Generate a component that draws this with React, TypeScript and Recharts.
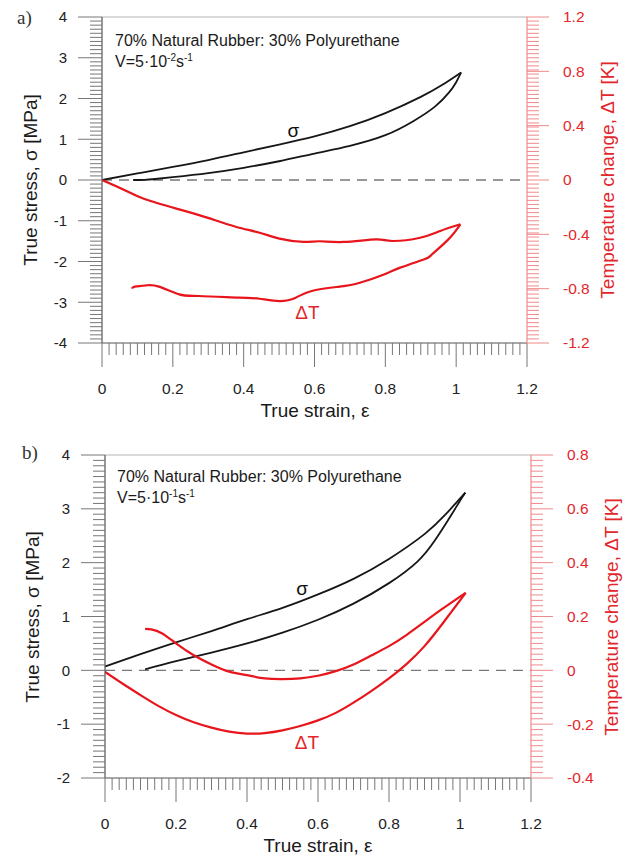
import React from 'react';
import { LineChart, Line, XAxis, YAxis, ReferenceLine, ReferenceDot } from 'recharts';

// ---------- Panel a) V = 5·10^-2 s^-1 ----------
const A_SIGMA_LOAD_E = [0, 0.1, 0.2, 0.3, 0.4, 0.5, 0.6, 0.7, 0.8, 0.9, 0.96, 1.014];
const A_SIGMA_LOAD_S = [0, 0.16, 0.32, 0.49, 0.68, 0.87, 1.07, 1.32, 1.64, 2.04, 2.33, 2.64];
const A_SIGMA_UNLOAD_E = [1.014, 1.0, 0.98, 0.94, 0.88, 0.8, 0.7, 0.6, 0.5, 0.4, 0.3, 0.2, 0.15, 0.12, 0.088];
const A_SIGMA_UNLOAD_S = [2.64, 2.4, 2.15, 1.8, 1.45, 1.1, 0.84, 0.65, 0.46, 0.3, 0.17, 0.07, 0.025, 0.005, 0];
const A_DT_LOAD_E = [0, 0.06, 0.12, 0.218, 0.297, 0.377, 0.445, 0.501, 0.569, 0.615, 0.683, 0.774, 0.819, 0.898, 0.955, 1.012];
const A_DT_LOAD_K = [0, -0.07, -0.14, -0.216, -0.277, -0.344, -0.388, -0.432, -0.456, -0.451, -0.456, -0.437, -0.449, -0.425, -0.375, -0.326];
const A_DT_UNLOAD_E = [1.012, 0.978, 0.932, 0.91, 0.842, 0.796, 0.728, 0.671, 0.592, 0.547, 0.501, 0.445, 0.388, 0.274, 0.218, 0.161, 0.127, 0.093, 0.085];
const A_DT_UNLOAD_K = [-0.326, -0.437, -0.547, -0.584, -0.645, -0.695, -0.756, -0.785, -0.817, -0.866, -0.891, -0.874, -0.866, -0.854, -0.842, -0.785, -0.775, -0.785, -0.8];

// ---------- Panel b) V = 5·10^-1 s^-1 ----------
const B_SIGMA_LOAD_E = [0, 0.1, 0.2, 0.3, 0.4, 0.5, 0.6, 0.7, 0.8, 0.9, 0.96, 1.015];
const B_SIGMA_LOAD_S = [0.07, 0.3, 0.52, 0.73, 0.95, 1.16, 1.41, 1.7, 2.07, 2.53, 2.9, 3.3];
const B_SIGMA_UNLOAD_E = [1.015, 1.0, 0.975, 0.93, 0.88, 0.8, 0.7, 0.6, 0.5, 0.4, 0.3, 0.2, 0.113];
const B_SIGMA_UNLOAD_S = [3.3, 3.15, 2.88, 2.42, 2.02, 1.62, 1.24, 0.94, 0.7, 0.5, 0.33, 0.17, 0.02];
const B_DT_LOAD_E = [0, 0.05, 0.1, 0.15, 0.2, 0.25, 0.3, 0.35, 0.4, 0.45, 0.5, 0.55, 0.6, 0.65, 0.7, 0.75, 0.8, 0.85, 0.9, 0.95, 1.016];
const B_DT_LOAD_K = [-0.006, -0.05, -0.092, -0.132, -0.166, -0.193, -0.213, -0.228, -0.235, -0.233, -0.223, -0.207, -0.186, -0.158, -0.12, -0.077, -0.03, 0.024, 0.09, 0.172, 0.288];
const B_DT_UNLOAD_E = [1.016, 0.95, 0.9, 0.85, 0.8, 0.75, 0.7, 0.65, 0.6, 0.55, 0.5, 0.45, 0.4, 0.35, 0.3, 0.25, 0.2, 0.16, 0.13, 0.113];
const B_DT_UNLOAD_K = [0.288, 0.228, 0.18, 0.132, 0.09, 0.055, 0.022, -0.003, -0.02, -0.03, -0.033, -0.03, -0.018, -0.005, 0.022, 0.056, 0.1, 0.138, 0.152, 0.154];

// ---------- Axis ticks ----------
const X_MAJOR = [0, 0.2, 0.4, 0.6, 0.8, 1, 1.2];
const A_LEFT_MAJOR = [-4, -3, -2, -1, 0, 1, 2, 3, 4];
const A_RIGHT_MAJOR = [-1.2, -0.8, -0.4, 0, 0.4, 0.8, 1.2];
const B_LEFT_MAJOR = [-2, -1, 0, 1, 2, 3, 4];
const B_RIGHT_MAJOR = [-0.4, -0.2, 0, 0.2, 0.4, 0.6, 0.8];

const pts = (xs: number[], ys: number[]) => xs.map((x, i) => ({ x, y: ys[i] }));
const steps = (a: number, b: number, st: number, majors: number[]) => {
  const minor = Array.from({ length: Math.floor((b - a) / st + 1e-6) + 1 }, (_, i) => +(a + i * st).toFixed(4));
  const all = [...minor, ...majors];
  const uniq: number[] = [];
  all.sort((p, q) => p - q).forEach((v) => {
    if (!uniq.length || Math.abs(uniq[uniq.length - 1] - v) > 1e-6) uniq.push(v);
  });
  return uniq;
};

const BLACK = '#161616';
const RED = '#e8161c';
const RED_TEXT = '#e3262b';
const RED_TICK = '#ef8a8a';
const FONT = '"Liberation Sans", Arial, sans-serif';

function makeTick(side: 'left' | 'right' | 'bottom', majors: number[], textColor: string, lineColor: string) {
  return (props: any) => {
    const v = props.payload.value;
    const major = majors.some((m) => Math.abs(m - v) < 1e-6);
    const len = major ? 24 : 12;
    const { x, y } = props;
    if (side === 'left') {
      return (
        <g>
          <line x1={x - len} y1={y} x2={x} y2={y} stroke={lineColor} strokeWidth={1} />
          {major && (
            <text x={x - 35} y={y} dy="0.35em" textAnchor="end" fontSize={15} fill={textColor} fontFamily={FONT}>
              {String(v)}
            </text>
          )}
        </g>
      );
    }
    if (side === 'right') {
      return (
        <g>
          <line x1={x} y1={y} x2={x + (major ? 22 : 12)} y2={y} stroke={lineColor} strokeWidth={1} />
          {major && (
            <text x={x + 36} y={y} dy="0.35em" textAnchor="start" fontSize={15.5} fill={textColor} fontFamily={FONT}>
              {String(v)}
            </text>
          )}
        </g>
      );
    }
    return (
      <g>
        <line x1={x} y1={y} x2={x} y2={y + len} stroke={lineColor} strokeWidth={1} />
        {major && (
          <text x={x} y={y + 46} dy="0.35em" textAnchor="middle" fontSize={15.5} fill={textColor} fontFamily={FONT}>
            {String(v)}
          </text>
        )}
      </g>
    );
  };
}

type PanelProps = {
  height: number;
  top: number;
  leftW: number;
  rightW: number;
  xAxisH: number;
  leftDomain: [number, number];
  rightDomain: [number, number];
  leftMajor: number[];
  rightMajor: number[];
  rightStep: number;
  sigmaLoad: { x: number; y: number }[];
  sigmaUnload: { x: number; y: number }[];
  dtLoad: { x: number; y: number }[];
  dtUnload: { x: number; y: number }[];
  sigmaLabel: [number, number];
  dtLabel: [number, number];
};

function Panel(p: PanelProps) {
  return (
    <LineChart width={628} height={p.height} margin={{ top: p.top, right: 0, bottom: 0, left: 0 }}>
      <XAxis
        xAxisId="x"
        type="number"
        dataKey="x"
        domain={[0, 1.2]}
        ticks={steps(0, 1.2, 0.02, X_MAJOR)}
        interval={0}
        tickSize={0}
        tickMargin={0}
        tickLine={false}
        height={p.xAxisH}
        axisLine={{ stroke: '#555', strokeWidth: 1.2 }}
        tick={makeTick('bottom', X_MAJOR, '#222', '#777')}
        allowDataOverflow
      />
      <YAxis
        yAxisId="left"
        orientation="left"
        type="number"
        domain={p.leftDomain}
        ticks={steps(p.leftDomain[0], p.leftDomain[1], 0.1, p.leftMajor)}
        interval={0}
        tickSize={0}
        tickMargin={0}
        tickLine={false}
        width={p.leftW}
        axisLine={{ stroke: '#555', strokeWidth: 1.2 }}
        tick={makeTick('left', p.leftMajor, '#222', '#777')}
        allowDataOverflow
      />
      <YAxis
        yAxisId="right"
        orientation="right"
        type="number"
        domain={p.rightDomain}
        ticks={steps(p.rightDomain[0], p.rightDomain[1], p.rightStep, p.rightMajor)}
        interval={0}
        tickSize={0}
        tickMargin={0}
        tickLine={false}
        width={p.rightW}
        axisLine={{ stroke: RED_TICK, strokeWidth: 1.2 }}
        tick={makeTick('right', p.rightMajor, RED_TEXT, RED_TICK)}
        allowDataOverflow
      />
      <ReferenceLine xAxisId="x" yAxisId="left" y={p.leftDomain[1]} stroke="#b5b5b5" strokeWidth={1.2} />
      <ReferenceLine xAxisId="x" yAxisId="left" y={0} stroke="#777" strokeWidth={1.4} strokeDasharray="10 7" />
      <Line xAxisId="x" yAxisId="left" data={p.sigmaLoad} dataKey="y" type="natural" stroke={BLACK} strokeWidth={1.8} dot={false} isAnimationActive={false} />
      <Line xAxisId="x" yAxisId="left" data={p.sigmaUnload} dataKey="y" type="natural" stroke={BLACK} strokeWidth={1.8} dot={false} isAnimationActive={false} />
      <Line xAxisId="x" yAxisId="right" data={p.dtLoad} dataKey="y" type="natural" stroke={RED} strokeWidth={2.2} dot={false} isAnimationActive={false} />
      <Line xAxisId="x" yAxisId="right" data={p.dtUnload} dataKey="y" type="natural" stroke={RED} strokeWidth={2.2} dot={false} isAnimationActive={false} />
      <ReferenceDot
        xAxisId="x"
        yAxisId="left"
        x={p.sigmaLabel[0]}
        y={p.sigmaLabel[1]}
        r={0}
        fill="none"
        stroke="none"
        ifOverflow="visible"
        label={{ value: 'σ', position: 'center', fill: '#111', fontSize: 19, fontFamily: FONT }}
      />
      <ReferenceDot
        xAxisId="x"
        yAxisId="right"
        x={p.dtLabel[0]}
        y={p.dtLabel[1]}
        r={0}
        fill="none"
        stroke="none"
        ifOverflow="visible"
        label={{ value: 'ΔT', position: 'center', fill: RED_TEXT, fontSize: 19, fontFamily: FONT }}
      />
    </LineChart>
  );
}

function Notes({ x, y, exp }: { x: number; y: number; exp: string }) {
  return (
    <g fontFamily={FONT} fill="#1a1a1a">
      <text x={x} y={y} fontSize={16}>70% Natural Rubber: 30% Polyurethane</text>
      <text x={x} y={y + 21} fontSize={16}>
        V=5·10<tspan fontSize={10} dy={-6}>{exp}</tspan>
        <tspan fontSize={16} dy={6}>s</tspan>
        <tspan fontSize={10} dy={-6}>-1</tspan>
      </text>
    </g>
  );
}

export default function App() {
  return (
    <div style={{ position: 'absolute', left: 0, top: 0, width: 628, height: 857, background: '#fff', fontFamily: FONT }}>
      <div style={{ position: 'absolute', left: 0, top: 0 }}>
        <Panel
          height={440}
          top={17}
          leftW={102}
          rightW={101}
          xAxisH={97}
          leftDomain={[-4, 4]}
          rightDomain={[-1.2, 1.2]}
          leftMajor={A_LEFT_MAJOR}
          rightMajor={A_RIGHT_MAJOR}
          rightStep={0.03}
          sigmaLoad={pts(A_SIGMA_LOAD_E, A_SIGMA_LOAD_S)}
          sigmaUnload={pts(A_SIGMA_UNLOAD_E, A_SIGMA_UNLOAD_S)}
          dtLoad={pts(A_DT_LOAD_E, A_DT_LOAD_K)}
          dtUnload={pts(A_DT_UNLOAD_E, A_DT_UNLOAD_K)}
          sigmaLabel={[0.54, 1.23]}
          dtLabel={[0.58, -0.976]}
        />
      </div>
      <div style={{ position: 'absolute', left: 0, top: 440 }}>
        <Panel
          height={417}
          top={15}
          leftW={105}
          rightW={97}
          xAxisH={79}
          leftDomain={[-2, 4]}
          rightDomain={[-0.4, 0.8]}
          leftMajor={B_LEFT_MAJOR}
          rightMajor={B_RIGHT_MAJOR}
          rightStep={0.02}
          sigmaLoad={pts(B_SIGMA_LOAD_E, B_SIGMA_LOAD_S)}
          sigmaUnload={pts(B_SIGMA_UNLOAD_E, B_SIGMA_UNLOAD_S)}
          dtLoad={pts(B_DT_LOAD_E, B_DT_LOAD_K)}
          dtUnload={pts(B_DT_UNLOAD_E, B_DT_UNLOAD_K)}
          sigmaLabel={[0.555, 1.53]}
          dtLabel={[0.569, -0.268]}
        />
      </div>
      <svg width={628} height={857} style={{ position: 'absolute', left: 0, top: 0, pointerEvents: 'none' }}>
        <text x={17} y={24} fontSize={19} fontFamily='"Liberation Serif", serif' fill="#333">a)</text>
        <text x={22} y={459} fontSize={19} fontFamily='"Liberation Serif", serif' fill="#333">b)</text>
        <Notes x={115} y={46} exp="-2" />
        <Notes x={117} y={482} exp="-1" />
        <g fontFamily={FONT} fontSize={19}>
          <text transform="translate(30,180) rotate(-90)" textAnchor="middle" dy="0.35em" fill="#1a1a1a">True stress, σ [MPa]</text>
          <text transform="translate(607,180) rotate(-90)" textAnchor="middle" dy="0.35em" fill={RED_TEXT}>Temperature change, ΔT [K]</text>
          <text x={315} y={410} textAnchor="middle" dy="0.35em" fill="#1a1a1a">True strain, ε</text>
          <text transform="translate(32,617) rotate(-90)" textAnchor="middle" dy="0.35em" fill="#1a1a1a">True stress, σ [MPa]</text>
          <text transform="translate(611,617) rotate(-90)" textAnchor="middle" dy="0.35em" fill={RED_TEXT}>Temperature change, ΔT [K]</text>
          <text x={318} y={845} textAnchor="middle" dy="0.35em" fill="#1a1a1a">True strain, ε</text>
        </g>
      </svg>
    </div>
  );
}
